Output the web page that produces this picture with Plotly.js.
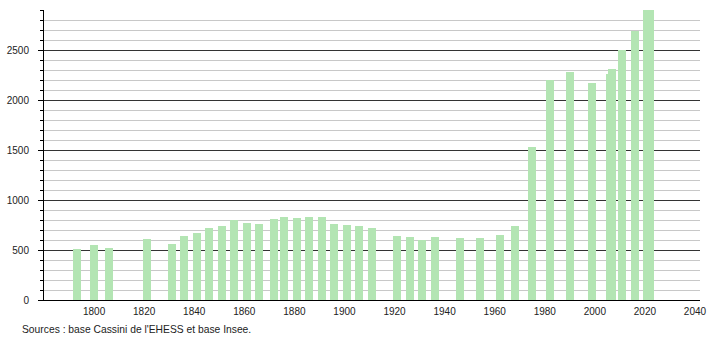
<!DOCTYPE html>
<html>
<head>
<meta charset="utf-8">
<script src="https://cdn.plot.ly/plotly-3.0.1.min.js"></script>
<style>html,body{margin:0;padding:0;background:#fff;}#chart{width:710px;height:340px;}</style>
</head>
<body>
<div id="chart"></div>
<script>
const years = [1793, 1800, 1806, 1821, 1831, 1836, 1841, 1846, 1851, 1856, 1861, 1866, 1872, 1876, 1881, 1886, 1891, 1896, 1901, 1906, 1911, 1921, 1926, 1931, 1936, 1946, 1954, 1962, 1968, 1975, 1982, 1990, 1999, 2006, 2007, 2011, 2016, 2021, 2022];
const population = [510, 550, 520, 610, 563, 640, 670, 720, 740, 797, 773, 763, 810, 830, 820, 833, 833, 763, 750, 740, 720, 640, 630, 600, 630, 620, 620, 650, 740, 1533, 2197, 2283, 2170, 2260, 2310, 2497, 2693, 2900, 2910];
const xTickVals = [1800, 1820, 1840, 1860, 1880, 1900, 1920, 1940, 1960, 1980, 2000, 2020, 2040];
const yTickVals = [0, 500, 1000, 1500, 2000, 2500];
const sourceText = "Sources : base Cassini de l'EHESS et base Insee.";

const trace = {
  type: 'bar',
  x: years,
  y: population,
  width: 3.2,
  marker: {color: '#b3e5b3', line: {width: 0}},
  hoverinfo: 'x+y'
};

const layout = {
  width: 710,
  height: 340,
  margin: {l: 44, r: 10, t: 10, b: 40},
  paper_bgcolor: '#ffffff',
  plot_bgcolor: '#ffffff',
  font: {family: 'Liberation Sans, Arial, sans-serif', size: 10, color: '#222'},
  showlegend: false,
  bargap: 0,
  xaxis: {
    range: [1780, 2042],
    tickvals: xTickVals,
    ticktext: xTickVals.map(String),
    tickfont: {size: 10},
    showgrid: false,
    zeroline: false,
    showline: true,
    linecolor: '#000',
    linewidth: 1,
    ticks: '',
    ticklabelstandoff: 2,
    fixedrange: true
  },
  yaxis: {
    range: [0, 2900],
    tickvals: yTickVals,
    ticktext: yTickVals.map(String),
    tickfont: {size: 10},
    showgrid: true,
    gridcolor: '#333333',
    gridwidth: 1,
    zeroline: false,
    showline: true,
    linecolor: '#000',
    linewidth: 1,
    ticks: 'outside',
    ticklen: 5,
    tickcolor: '#000',
    ticklabelstandoff: 7,
    minor: {
      dtick: 100,
      tick0: 0,
      showgrid: true,
      gridcolor: '#c8c8c8',
      gridwidth: 1,
      ticks: 'outside',
      ticklen: 3,
      tickcolor: '#000'
    },
    fixedrange: true
  },
  annotations: [{
    text: sourceText,
    xref: 'paper', yref: 'paper',
    x: -24/656, y: -29/290,
    xanchor: 'left', yanchor: 'middle',
    showarrow: false,
    font: {family: 'Liberation Sans, Arial, sans-serif', size: 10.3, color: '#222'}
  }]
};

Plotly.newPlot('chart', [trace], layout, {displayModeBar: false, staticPlot: true});
</script>
</body>
</html>
